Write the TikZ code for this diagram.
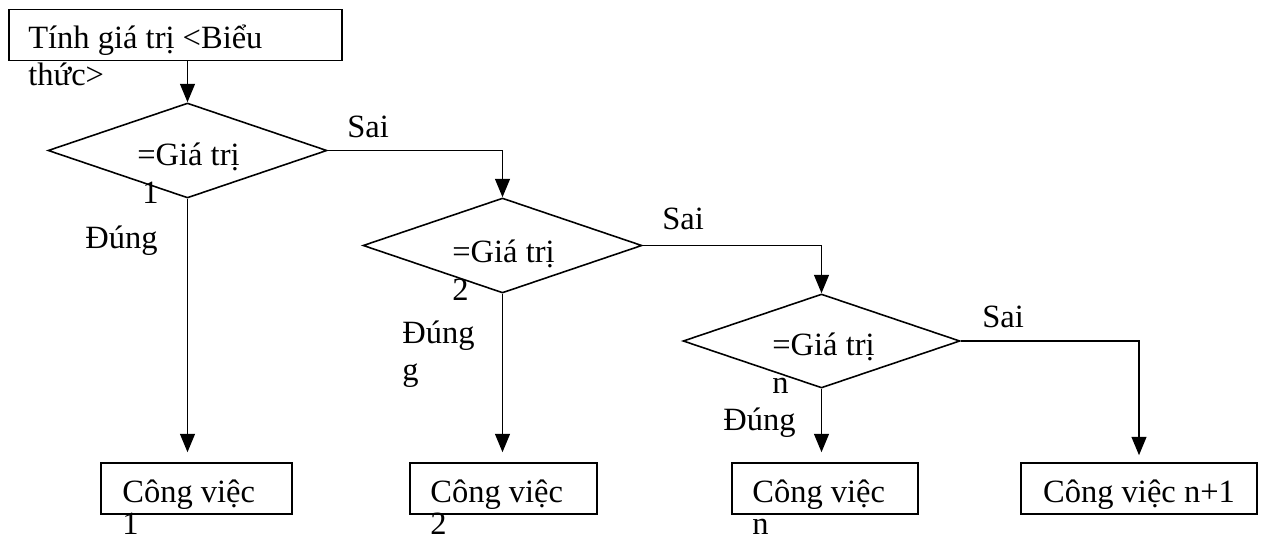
\documentclass[tikz,border=0pt]{standalone}
\usepackage{fontspec}
\setmainfont{Liberation Serif}
\usepackage{tikz}
\usetikzlibrary{arrows.meta,shapes.geometric,positioning}

\begin{document}
\begin{tikzpicture}[x=0.02cm,y=-0.02cm,font=\fontsize{18.5}{22}\selectfont,
    txt/.style={anchor=base west,inner sep=0pt},
    box/.style={draw,line width=0.9pt,inner sep=0pt,minimum height=1.02cm},
    test/.style={draw,diamond,line width=0.9pt,inner sep=0pt,minimum width=5.58cm,minimum height=1.9cm},
    flow/.style={line width=0.9pt,-{Triangle[width=8.5pt,length=10.5pt]}}]
  \useasboundingbox (0,0) rectangle (1264,541);
  % expression and the tests
  \node[box,minimum width=6.66cm] (expr) at (175.5,35) {};
  \node[test] (t1) at (187.5,150.5) {};
  \node[test] (t2) at (502.5,245.5) {};
  \node[test,minimum width=5.54cm,minimum height=1.88cm] (tn) at (821.5,341) {};
  % jobs
  \node[box,minimum width=3.82cm] (job1) at (196.5,488.5) {};
  \node[box,minimum width=3.74cm] (job2) at (503.5,488.5) {};
  \node[box,minimum width=3.72cm] (jobn) at (825,488.5) {};
  \node[box,minimum width=4.72cm,text height=0.78cm,text depth=0.24cm] (jobm) at (1139,488.5) {Công việc n+1};
  % arrows
  \draw[flow] (t1.north |- expr.south) -- (t1.north);
  \draw[flow] (t1.east) -| (t2.north);
  \draw[flow] (t2.east) -| (tn.north);
  \draw[flow,shorten >=0.14cm] (tn.east) -| (jobm.north);
  \foreach \t/\j in {t1/job1,t2/job2,tn/jobn}
    \draw[flow,shorten >=0.2cm] (\t.south) -- (\t.south |- \j.north);
  % texts
  \node[txt] (exprA) at (28,48) {Tính giá trị <Biểu};
  \node[txt] (exprB) at (28,85) {thức>};
  \foreach \x/\y/\k/\d in {137/165/1/5,452/262/2/0,772/355/n/0} {
    \node[txt] (val\k) at (\x,\y) {=Giá trị};
    \node[txt] (num\k) at (\x+\d,\y+38) {\k};
  }
  \foreach \x/\y/\k in {347/137/1,662/229/2,982/327/n}
    \node[txt] (no\k) at (\x,\y) {Sai};
  \node[txt] (yes1) at (85,248) {Đúng};
  \node[txt] (yes2) at (402,343) {Đúng};
  \node[txt] (yes2b) at (402,380) {g};
  \node[txt] (yesn) at (723,430) {Đúng};
  \foreach \x/\k in {122/1,430/2,752/n} {
    \node[txt] (work\k) at (\x,502) {Công việc};
    \node[txt] (worknum\k) at (\x,534) {\k};
  }
\end{tikzpicture}
\end{document}
